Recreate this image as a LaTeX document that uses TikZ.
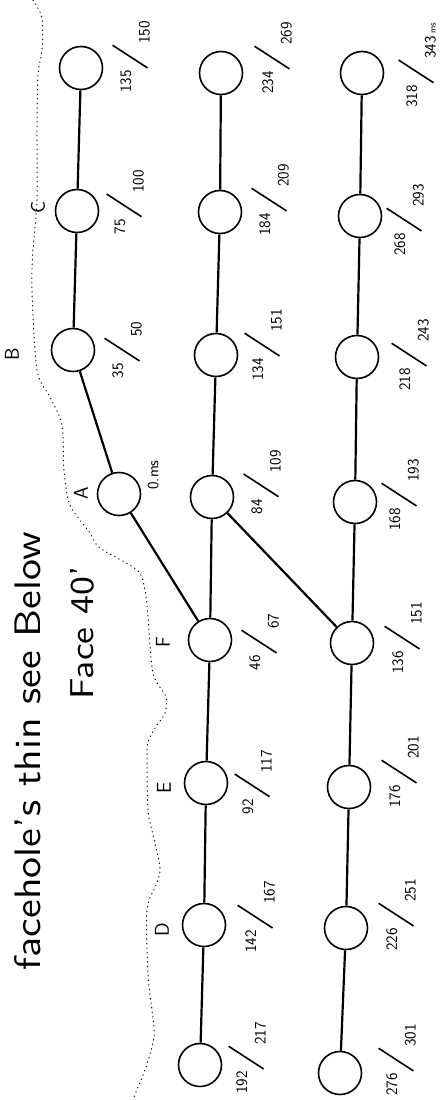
\documentclass[tikz,border=0pt]{standalone}
\usepackage{graphicx}
\newcommand\fr[2]{\raisebox{1.15em}{#1}\kern0.1em\raisebox{0.1em}{\rotatebox{57}{\rule{2.6em}{0.1em}}}\kern0.05em#2}
\tikzset{
 hole/.style={circle, draw, line width=1.6pt, minimum size=43pt, inner sep=0pt},
 link/.style={line width=2.2pt},
 lab/.style={rotate=90, font=\sffamily\fontsize{16}{16}\selectfont, inner sep=0pt},
 letter/.style={rotate=90, font=\sffamily\fontsize{20}{20}\selectfont, inner sep=0pt},
 bound/.style={line width=1pt, dash pattern=on 0.6pt off 4pt, line cap=round},
 note/.style={rotate=90, font=\sffamily, inner sep=0pt},
}
\begin{document}
\begin{tikzpicture}[x=1pt,y=-1pt]
\useasboundingbox (0,0) rectangle (442,1100);
% holes
\node[hole] (a1) at (81,68) {};
\node[hole] (a2) at (77,211) {};
\node[hole] (a3) at (73,350) {};
\node[hole] (a4) at (119,494) {};
\node[hole] (a5) at (210,640) {};
\node[hole] (a6) at (206,783) {};
\node[hole] (a7) at (204,925) {};
\node[hole] (a8) at (200,1065) {};
\node[hole] (b1) at (221,73) {};
\node[hole] (b2) at (220,212) {};
\node[hole] (b3) at (216,355) {};
\node[hole] (b4) at (212,497) {};
\node[hole] (c1) at (362,73) {};
\node[hole] (c2) at (360,216) {};
\node[hole] (c3) at (357,357) {};
\node[hole] (c4) at (355,502) {};
\node[hole] (c5) at (352,643) {};
\node[hole] (c6) at (349,787) {};
\node[hole] (c7) at (346,928) {};
\node[hole] (c8) at (340,1073) {};
% connectors
\draw[link] (a1) -- (a2);
\draw[link] (a2) -- (a3);
\draw[link] (a3) -- (a4);
\draw[link] (a4) -- (a5);
\draw[link] (a5) -- (a6);
\draw[link] (a6) -- (a7);
\draw[link] (a7) -- (a8);
\draw[link] (b1) -- (b2);
\draw[link] (b2) -- (b3);
\draw[link] (b3) -- (b4);
\draw[link] (b4) -- (a5);
\draw[link] (b4) -- (c5);
\draw[link] (c1) -- (c2);
\draw[link] (c2) -- (c3);
\draw[link] (c3) -- (c4);
\draw[link] (c4) -- (c5);
\draw[link] (c5) -- (c6);
\draw[link] (c6) -- (c7);
\draw[link] (c7) -- (c8);
% time labels
\node[lab] (la1) at (131,57) {\fr{135}{150}};
\node[lab] (la2) at (125,202) {\fr{75}{100}};
\node[lab] (la3) at (123,350) {\fr{35}{50}};
\node[lab] (la4) at (153,475) {0.ms};
\node[lab] (la5) at (260,642) {\fr{46}{67}};
\node[lab] (la6) at (253,782) {\fr{92}{117}};
\node[lab] (la7) at (256,917) {\fr{142}{167}};
\node[lab] (la8) at (247,1058) {\fr{192}{217}};
\node[lab] (lb1) at (273,58) {\fr{234}{269}};
\node[lab] (lb2) at (270,200) {\fr{184}{209}};
\node[lab] (lb3) at (263,345) {\fr{134}{151}};
\node[lab] (lb4) at (262,482) {\fr{84}{109}};
\node[lab] (lc1) at (417,65) {\fr{318}{343}\,{\small ms}};
\node[lab] (lc2) at (405,220) {\fr{268}{293}};
\node[lab] (lc3) at (410,355) {\fr{218}{243}};
\node[lab] (lc4) at (400,495) {\fr{168}{193}};
\node[lab] (lc5) at (403,638) {\fr{136}{151}};
\node[lab] (lc6) at (400,772) {\fr{176}{201}};
\node[lab] (lc7) at (397,915) {\fr{226}{251}};
\node[lab] (lc8) at (397,1060) {\fr{276}{301}};
% letters
\node[letter] (tC) at (38,207) {C};
\node[letter] (tB) at (12,354) {B};
\node[letter] (tA) at (81,493) {A};
\node[letter] (tF) at (163,642) {F};
\node[letter] (tE) at (164,788) {E};
\node[letter] (tD) at (162,930) {D};
% notes
\node[note] (n1) at (28,751) {\resizebox{438pt}{26pt}{facehole's thin see Below}};
\node[note] (n2) at (82,633) {\resizebox{133pt}{23pt}{Face 40'}};
% boundary
\draw[bound] plot[smooth] coordinates {(33,0) (42,18) (42,50) (38,75) (37,130) (37,200) (33,250) (32,290) (37,370) (50,397) (62,425) (64,470) (70,505) (90,533) (100,548) (137,570) (145,590) (148,617) (153,673) (166,697) (165,713) (155,728) (148,742) (147,760) (148,810) (153,835) (160,868) (156,885) (147,910) (148,975) (152,1010) (154,1037) (146,1067) (136,1092) (133,1100)};
\end{tikzpicture}
\end{document}
